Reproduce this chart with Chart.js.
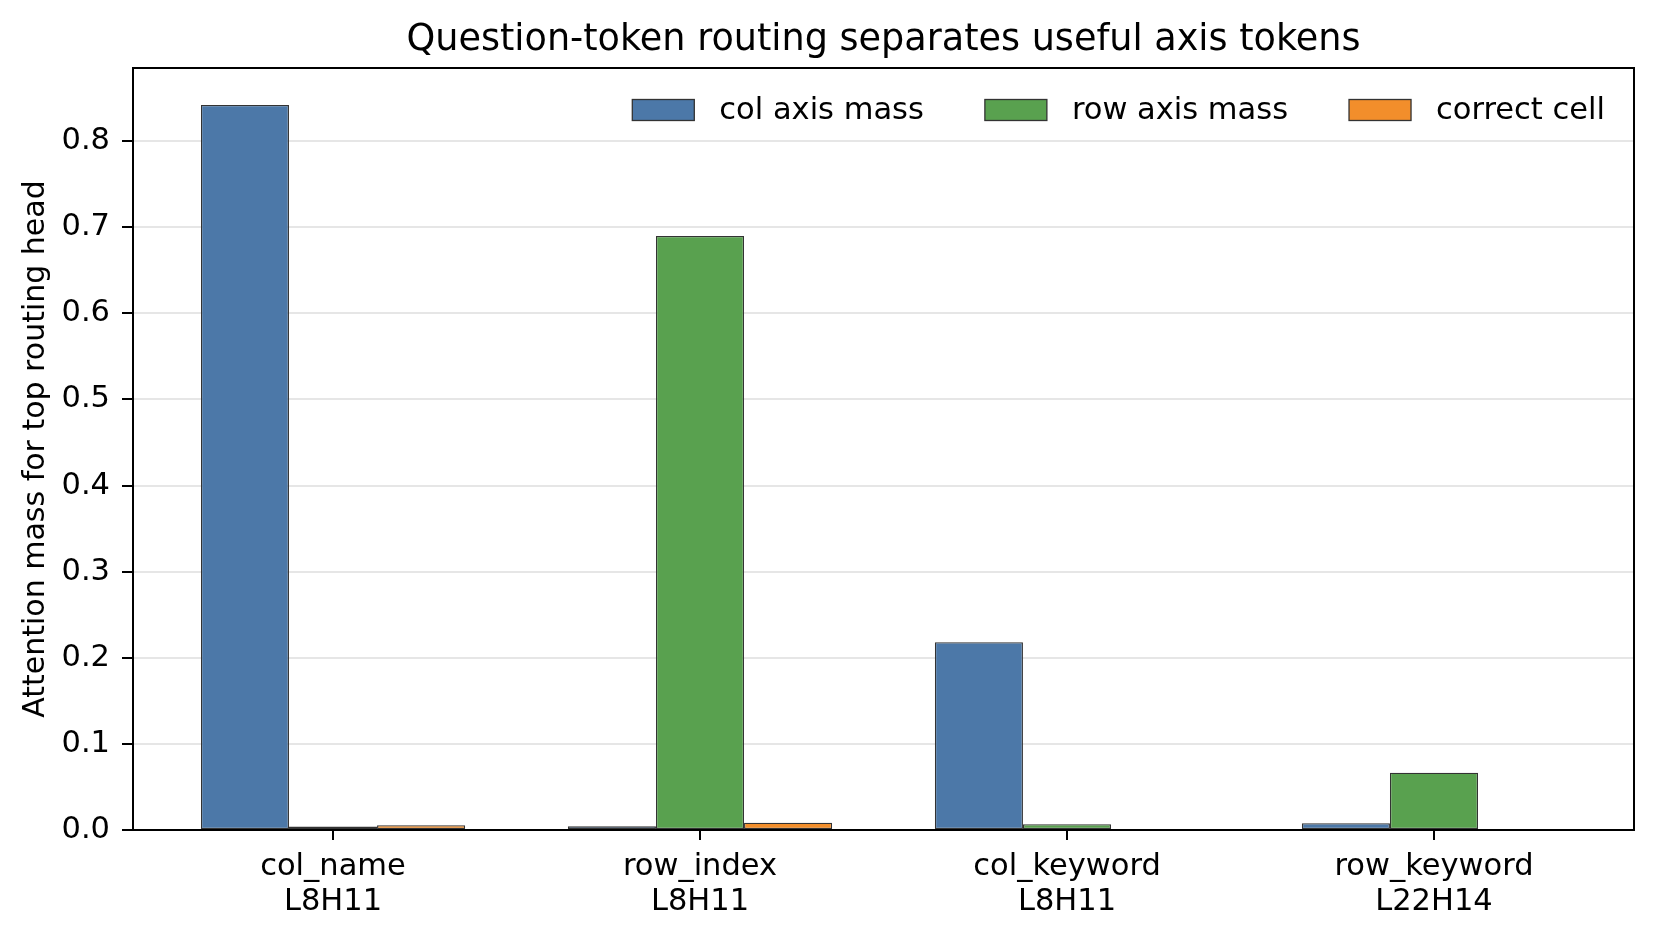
<!DOCTYPE html>
<html>
<head>
<meta charset="utf-8">
<script src="https://cdn.jsdelivr.net/npm/chart.js@4.4.1/dist/chart.umd.min.js"></script>
<style>
  body { margin: 0; background: #fff; }
  #wrap { width: 1655px; height: 938px; }
</style>
</head>
<body>
<div id="wrap"><canvas id="routingChart" width="1655" height="938"></canvas></div>
<script>
// Chart values
const chartTitle = 'Question-token routing separates useful axis tokens';
const yAxisTitle = 'Attention mass for top routing head';
const categories = [
    ['col_name', 'L8H11'],
    ['row_index', 'L8H11'],
    ['col_keyword', 'L8H11'],
    ['row_keyword', 'L22H14']
];
const seriesLabels = ['col axis mass', 'row axis mass', 'correct cell'];
const colAxisMass = [0.842, 0.0043, 0.218, 0.0078];
const rowAxisMass = [0.004, 0.690, 0.0066, 0.0666];
const correctCell = [0.0055, 0.0085, 0.001, 0.001];
const yTicks = [0, 0.1, 0.2, 0.3, 0.4, 0.5, 0.6, 0.7, 0.8];

const FONT = "'DejaVu Sans', sans-serif";
const colors = ['#4c78a8', '#59a14f', '#f28e2b'];

const toPoints = arr => arr.map((v, i) => ({ x: i, y: v }));

// frame, title and in-axes legend (matplotlib style)
const decorPlugin = {
    id: 'decor',
    afterDraw(chart) {
        const { ctx, chartArea: a } = chart;
        ctx.save();
        ctx.strokeStyle = '#000';
        ctx.lineWidth = 2;
        ctx.strokeRect(a.left, a.top, a.right - a.left, a.bottom - a.top);

        ctx.fillStyle = '#000';
        ctx.font = `36.6px ${FONT}`;
        ctx.textAlign = 'center';
        ctx.textBaseline = 'middle';
        ctx.fillText(chartTitle, (a.left + a.right) / 2, 40);

        // legend, right aligned inside the plot
        ctx.font = `30.5px ${FONT}`;
        ctx.textAlign = 'left';
        const boxW = 62, boxH = 21, gap = 25, colGap = 61;
        const widths = seriesLabels.map(t => ctx.measureText(t).width);
        const total = widths.reduce((s, w) => s + boxW + gap + w, 0) + colGap * (widths.length - 1);
        let x = a.right - 29 - total;
        const cy = a.top + 42;
        seriesLabels.forEach((t, i) => {
            ctx.fillStyle = colors[i];
            ctx.fillRect(x, cy - boxH / 2, boxW, boxH);
            ctx.strokeStyle = '#333';
            ctx.lineWidth = 1.3;
            ctx.strokeRect(x, cy - boxH / 2, boxW, boxH);
            ctx.fillStyle = '#000';
            ctx.fillText(t, x + boxW + gap, cy + 1);
            x += boxW + gap + widths[i] + colGap;
        });
        ctx.restore();
    }
};

const datasets = [colAxisMass, rowAxisMass, correctCell].map((vals, i) => ({
    label: seriesLabels[i],
    data: toPoints(vals),
    backgroundColor: colors[i],
    borderColor: '#333',
    borderWidth: 1.3,
    borderSkipped: false,
    barPercentage: 1.0,
    categoryPercentage: 0.72
}));

new Chart(document.getElementById('routingChart').getContext('2d'), {
    type: 'bar',
    data: { datasets },
    plugins: [decorPlugin],
    options: {
        responsive: false,
        animation: false,
        layout: { padding: { left: 0, right: 21, top: 68, bottom: 0 } },
        plugins: {
            legend: { display: false },
            title: { display: false },
            tooltip: { enabled: false }
        },
        scales: {
            x: {
                type: 'linear',
                min: -0.545,
                max: 3.545,
                offset: false,
                afterBuildTicks: s => { s.ticks = categories.map((c, i) => ({ value: i })); },
                afterFit: s => {
                    s.height = 108;
                    s.paddingLeft = 0; s.paddingRight = 0;
                },
                ticks: {
                    color: '#000',
                    font: { family: FONT, size: 30.5, lineHeight: 1.14 },
                    padding: 10,
                    maxRotation: 0,
                    autoSkip: false,
                    callback: v => categories[v]
                },
                grid: {
                    offset: false,
                    drawOnChartArea: false,
                    color: '#000',
                    tickLength: 10,
                    lineWidth: 2
                },
                border: { color: '#000', width: 2 }
            },
            y: {
                min: 0,
                max: 0.885,
                afterBuildTicks: s => { s.ticks = yTicks.map(v => ({ value: v })); },
                afterFit: s => {
                    s.width = 133;
                    s.paddingTop = 0; s.paddingBottom = 0;
                },
                ticks: {
                    color: '#000',
                    font: { family: FONT, size: 30.5 },
                    padding: 12,
                    callback: v => v.toFixed(1)
                },
                grid: {
                    color: '#e6e6e6',
                    lineWidth: 2,
                    tickColor: '#000',
                    tickLength: 11,
                    tickWidth: 2
                },
                border: { color: '#000', width: 2 },
                title: {
                    display: true,
                    text: yAxisTitle,
                    color: '#000',
                    font: { family: FONT, size: 30 },
                    padding: { top: 18, bottom: 0 }
                }
            }
        }
    }
});
</script>
</body>
</html>
